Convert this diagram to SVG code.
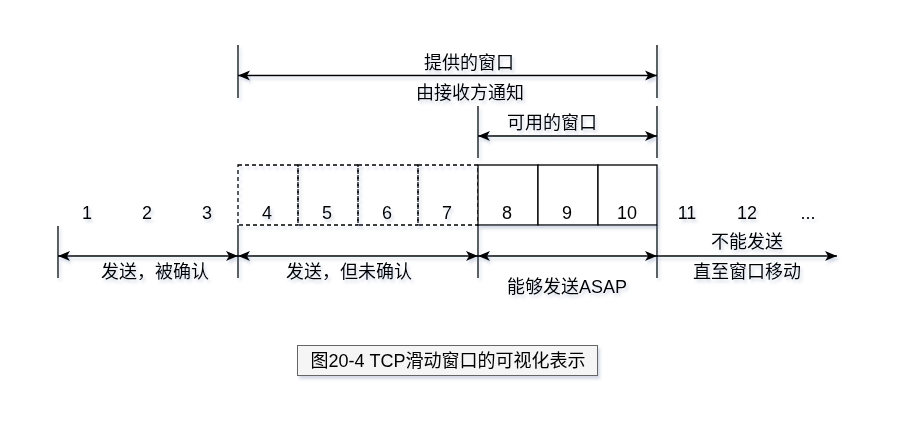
<svg xmlns="http://www.w3.org/2000/svg" width="912" height="438" viewBox="0 0 912 438">
<style>
text{font-family:"Liberation Sans","Noto Sans CJK SC",sans-serif;font-size:18px;fill:#000;text-anchor:middle}
.ln{stroke:#000;stroke-width:1.3;fill:none}
.dash{stroke:#000;stroke-width:1.3;fill:none;stroke-dasharray:4 3}
.box{stroke:#000;stroke-width:1.3;fill:#fff}
.arr{stroke:#000;stroke-width:1.3;fill:none;marker-end:url(#ah)}
.arr2{stroke:#000;stroke-width:1.3;fill:none;marker-end:url(#ah);marker-start:url(#ah)}
.cap{fill:#f5f5f5;stroke:#666;stroke-width:1}
</style>
<defs>
<filter id="sh" x="-10%" y="-10%" width="130%" height="160%">
<feDropShadow dx="2" dy="3" stdDeviation="1.5" flood-color="#7080a8" flood-opacity="0.3"/>
</filter>
<marker id="ah" markerUnits="userSpaceOnUse" viewBox="0 0 12 12" markerWidth="12" markerHeight="12" refX="12" refY="6" orient="auto-start-reverse">
<path d="M0,1 L12,6 L0,11 L3,6 Z" fill="#000"/>
</marker>
</defs>
<g filter="url(#sh)">
<g id="offered-window">
<line class="ln" x1="238" y1="45" x2="238" y2="98"/>
<line class="ln" x1="657" y1="45" x2="657" y2="98"/>
<text x="469" y="69">提供的窗口</text>
<text x="470" y="99">由接收方通知</text>
</g>
<g id="usable-window">
<line class="ln" x1="478" y1="106" x2="478" y2="158"/>
<line class="ln" x1="657" y1="106" x2="657" y2="158"/>
<text x="552" y="129">可用的窗口</text>
</g>
<g id="sent-unacked">
<rect class="dash" x="238" y="165" width="60" height="60"/>
<rect class="dash" x="298" y="165" width="60" height="60"/>
<rect class="dash" x="358" y="165" width="60" height="60"/>
<rect class="dash" x="418" y="165" width="60" height="60"/>
</g>
<g id="can-send">
<rect class="box" x="478" y="165" width="60" height="60"/>
<rect class="box" x="538" y="165" width="60" height="60"/>
<rect class="box" x="598" y="165" width="59" height="60"/>
</g>
<g id="numbers">
<text x="87" y="218.5">1</text>
<text x="147" y="218.5">2</text>
<text x="207" y="218.5">3</text>
<text x="267" y="218.5">4</text>
<text x="327" y="218.5">5</text>
<text x="387" y="218.5">6</text>
<text x="447" y="218.5">7</text>
<text x="507" y="218.5">8</text>
<text x="567" y="218.5">9</text>
<text x="627" y="218.5">10</text>
<text x="687" y="218.5">11</text>
<text x="747" y="218.5">12</text>
<text x="808" y="218.5">...</text>
</g>
<g id="bottom-marks">
<line class="ln" x1="58" y1="226" x2="58" y2="278"/>
<line class="ln" x1="238" y1="225" x2="238" y2="278"/>
<line class="ln" x1="478" y1="225" x2="478" y2="278"/>
<line class="ln" x1="657" y1="225" x2="657" y2="278"/>
</g>
<g id="labels">
<text x="155" y="278">发送，被确认</text>
<text x="349" y="278">发送，但未确认</text>
<text x="567" y="293">能够发送ASAP</text>
<text x="747" y="248">不能发送</text>
<text x="747" y="278">直至窗口移动</text>
</g>
<g id="connectors">
<line class="arr2" x1="238" y1="75.5" x2="657" y2="75.5"/>
<line class="arr2" x1="478" y1="136" x2="657" y2="136"/>
<line class="arr2" x1="58" y1="256" x2="238" y2="256"/>
<line class="arr2" x1="238" y1="256" x2="478" y2="256"/>
<line class="arr2" x1="478" y1="256" x2="657" y2="256"/>
<line class="arr" x1="657" y1="256" x2="837" y2="256"/>
</g>
<g id="caption">
<rect class="cap" x="297.5" y="345.5" width="300" height="30"/>
<text x="448" y="367">图20-4 TCP滑动窗口的可视化表示</text>
</g>
</g>
</svg>
